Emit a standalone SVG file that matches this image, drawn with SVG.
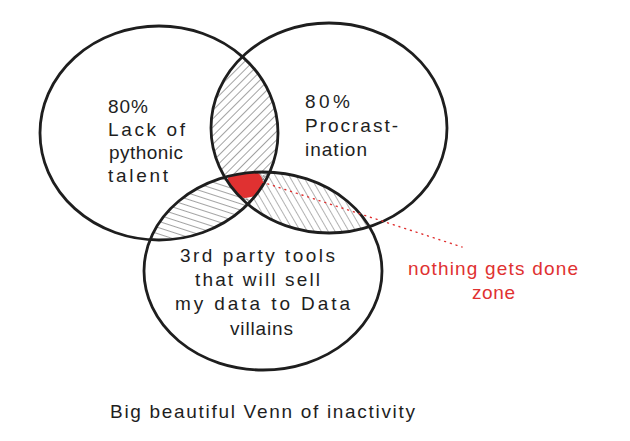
<svg xmlns="http://www.w3.org/2000/svg" width="630" height="441" viewBox="0 0 630 441">
<style>
.c{fill:none;stroke:#1e1e1e;stroke-width:2.8}
.t{font-family:"Liberation Sans","DejaVu Sans",sans-serif;font-size:19px;fill:#1e1e1e}
.r{fill:#e03131}
.lens{fill:none;stroke:#555;stroke-width:1.2;stroke-dasharray:2 3}
</style>
<defs>
<pattern id="h1" width="6" height="6" patternUnits="userSpaceOnUse" patternTransform="rotate(45)"><line x1="0" y1="0" x2="0" y2="6" stroke="#555" stroke-width="1.1"/></pattern>
<pattern id="h2" width="6" height="6" patternUnits="userSpaceOnUse" patternTransform="rotate(-72)"><line x1="0" y1="0" x2="0" y2="6" stroke="#555" stroke-width="1.1"/></pattern>
<pattern id="h3" width="6" height="6" patternUnits="userSpaceOnUse" patternTransform="rotate(-30)"><line x1="0" y1="0" x2="0" y2="6" stroke="#666" stroke-width="1"/></pattern>
<clipPath id="cL"><ellipse cx="159" cy="133" rx="119" ry="107"/></clipPath>
<clipPath id="cR"><ellipse cx="329" cy="128" rx="118" ry="105"/></clipPath>
<clipPath id="cB"><ellipse cx="263" cy="271" rx="119" ry="99"/></clipPath>
</defs>
<rect width="630" height="441" fill="#fff"/>
<g id="hatches">
<g clip-path="url(#cL)"><rect x="0" y="0" width="630" height="441" fill="url(#h1)" clip-path="url(#cR)"/></g>
<g clip-path="url(#cL)"><rect x="0" y="0" width="630" height="441" fill="url(#h2)" clip-path="url(#cB)"/></g>
<g clip-path="url(#cR)"><rect x="0" y="0" width="630" height="441" fill="url(#h3)" clip-path="url(#cB)"/></g>
<g clip-path="url(#cR)"><ellipse class="lens" cx="263" cy="271" rx="115" ry="95" clip-path="url(#cL)"/></g>
</g>
<g id="red-zone">
<g clip-path="url(#cL)"><g clip-path="url(#cR)"><ellipse cx="245" cy="183" rx="18" ry="15" class="r" clip-path="url(#cB)"/></g></g>
</g>
<g id="circle-left"><ellipse class="c" cx="159" cy="133" rx="119" ry="107"/>
<text class="t" x="108" y="113" textLength="40">80%</text>
<text class="t" x="108" y="136" textLength="77">Lack of</text>
<text class="t" x="109" y="159" textLength="74">pythonic</text>
<text class="t" x="108" y="182" textLength="60">talent</text>
</g>
<g id="circle-right"><ellipse class="c" cx="329" cy="128" rx="118" ry="105"/>
<text class="t" x="305" y="108" textLength="45">80%</text>
<text class="t" x="305" y="132" textLength="93">Procrast-</text>
<text class="t" x="305" y="156" textLength="62">ination</text>
</g>
<g id="circle-bottom"><ellipse class="c" cx="263" cy="271" rx="119" ry="99"/>
<text class="t" x="180" y="262" textLength="155">3rd party tools</text>
<text class="t" x="195" y="286" textLength="125">that will sell</text>
<text class="t" x="175" y="310" textLength="175">my data to Data</text>
<text class="t" x="230" y="335" textLength="63">villains</text>
</g>
<g id="connectors">
<line x1="262" y1="182" x2="462" y2="247" stroke="#e03131" stroke-width="1.4" stroke-dasharray="1 5" stroke-linecap="round"/>
</g>
<g id="label-zone">
<text class="t" x="408" y="275" textLength="170" style="fill:#e03131">nothing gets done</text>
<text class="t" x="472" y="299" textLength="43" style="fill:#e03131">zone</text>
</g>
<g id="caption">
<text class="t" x="110" y="418" textLength="305">Big beautiful Venn of inactivity</text>
</g>
</svg>
